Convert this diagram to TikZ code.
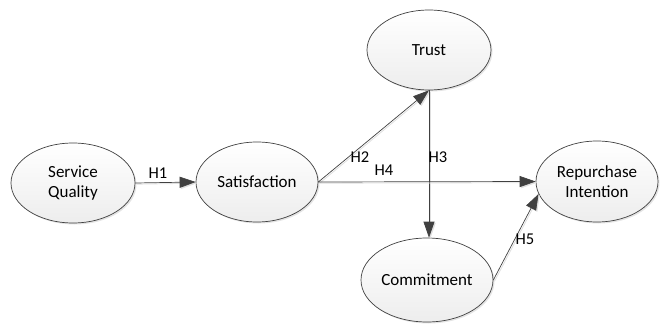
\documentclass[tikz,border=0pt]{standalone}
\usepackage{fontspec}
\setmainfont{Carlito}
\usetikzlibrary{arrows.meta,shadows,shapes.geometric}
\definecolor{edgec}{HTML}{404040}
\tikzset{
  construct/.style={ellipse, draw=edgec, line width=0.7pt, top color=white, bottom color=gray!14,
    drop shadow={shadow xshift=1.5pt, shadow yshift=-1.5pt, fill=gray!35, opacity=0.6},
    inner sep=0pt, align=center, font=\fontsize{17}{20}\selectfont},
  path/.style={draw=edgec, line width=0.7pt, -{Triangle[length=16pt,width=11pt]},
    preaction={draw=gray!25, line width=0.8pt, -{Triangle[length=16pt,width=11pt]}, transform canvas={shift={(1.2pt,-1.2pt)}}}},
  hlab/.style={font=\fontsize{16.5}{18}\selectfont, inner sep=0pt}
}
\begin{document}
\begin{tikzpicture}[x=1pt,y=-1pt]
\useasboundingbox (0,0) rectangle (665,324);
\node[construct, minimum width=124pt, minimum height=80pt] (sq) at (73,183) {Service\\Quality};
\node[construct, minimum width=122pt, minimum height=80pt] (sat) at (257,182) {Satisfaction};
\node[construct, minimum width=124pt, minimum height=80pt] (trust) at (429,50) {Trust};
\node[construct, minimum width=132pt, minimum height=84pt] (com) at (427,280) {Commitment};
\node[construct, minimum width=122pt, minimum height=81pt] (rep) at (597,181.5) {Repurchase\\Intention};
\draw[path] (sq.east) -- (sat.west);
\draw[path] (sat.east) -- (trust.south);
\draw[path] (trust.south) -- (trust.south |- com.north);
\draw[path] (sat.east) -- (rep.west);
\draw[path] (com.east) -- (rep.192);
\node[hlab] (h1) at (158,173) {H1};
\node[hlab] (h2) at (360,157) {H2};
\node[hlab] (h3) at (438,157) {H3};
\node[hlab] (h4) at (384,170) {H4};
\node[hlab] (h5) at (525,239) {H5};
\end{tikzpicture}
\end{document}
